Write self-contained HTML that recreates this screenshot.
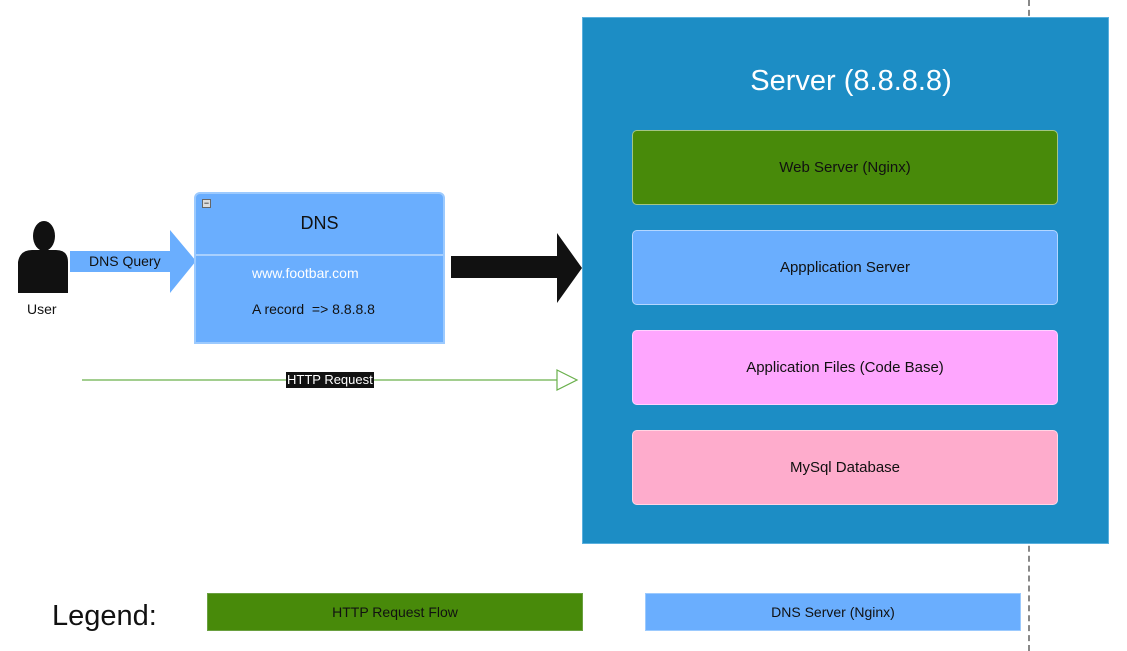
<!DOCTYPE html>
<html><head><style>
body{margin:0;width:1127px;height:651px;background:#fff;position:relative;overflow:hidden;font-family:"Liberation Sans",Arial,sans-serif}
.a{position:absolute;box-sizing:border-box}
.ib{position:absolute;box-sizing:border-box;left:632px;width:426px;height:75px;border-radius:5px;border:1px solid rgba(255,255,255,.5);display:flex;align-items:center;justify-content:center;font-size:15px;color:#111}
</style></head><body>
<div class="a" style="left:1028px;top:0;height:651px;border-left:2px dashed #888"></div>
<div class="a" style="left:582px;top:17px;width:527px;height:527px;background:#1c8dc5;border:1px solid #5ab0de"></div>
<div class="a" style="left:582px;top:65px;width:538px;text-align:center;font-size:29px;color:#fff">Server (8.8.8.8)</div>
<div class="ib" style="top:130px;background:#488a0a">Web Server (Nginx)</div>
<div class="ib" style="top:230px;background:#6aaefe">Appplication Server</div>
<div class="ib" style="top:330px;background:#fea6fe">Application Files (Code Base)</div>
<div class="ib" style="top:430px;background:#feaccc">MySql Database</div>

<svg class="a" style="left:0;top:0" width="1127" height="651">
<polygon points="70,251 170,251 170,230 196,261 170,293 170,272 70,272" fill="#6aaefe"/>
<polygon points="451,256 557,256 557,233 582,268 557,303 557,278 451,278" fill="#111"/>
<ellipse cx="44" cy="236" rx="11" ry="15" fill="#111"/>
<path d="M18,293 L18,262 Q20,250 32,250 L56,250 Q68,250 68,262 L68,293 Z" fill="#111"/>
<line x1="82" y1="380" x2="557" y2="380" stroke="#6ab04c" stroke-width="1.2"/>
<polygon points="557,370 577,380 557,390" fill="#fff" stroke="#6ab04c" stroke-width="1.2"/>
</svg>
<div class="a" style="left:27px;top:301px;font-size:14px;color:#111">User</div>
<div class="a" style="left:89px;top:253px;font-size:14px;color:#111">DNS Query</div>

<div class="a" style="left:194px;top:192px;width:251px;height:152px;background:#6aaefe;border:2px solid #9ccafe;border-radius:6px 6px 0 0"></div>
<div class="a" style="left:196px;top:254px;width:247px;border-top:2px solid #a8d0fe"></div>
<div class="a" style="left:202px;top:199px;width:9px;height:9px;background:#ddd;border:1px solid #666;font-size:9px;line-height:7px;text-align:center">−</div>
<div class="a" style="left:194px;top:213px;width:251px;text-align:center;font-size:18px;color:#111">DNS</div>
<div class="a" style="left:252px;top:265px;font-size:14px;color:#fff">www.footbar.com</div>
<div class="a" style="left:252px;top:301px;font-size:14px;color:#111">A record&nbsp; =&gt; 8.8.8.8</div>
<div class="a" style="left:286px;top:372px;background:#111;color:#fff;font-size:13px;padding:0 1px;line-height:16px">HTTP Request</div>

<div class="a" style="left:52px;top:600px;font-size:29px;color:#111">Legend:</div>
<div class="a" style="left:207px;top:593px;width:376px;height:38px;background:#488a0a;border:1px solid #6aa040;display:flex;align-items:center;justify-content:center;font-size:14px;color:#111">HTTP Request Flow</div>
<div class="a" style="left:645px;top:593px;width:376px;height:38px;background:#6aaefe;border:1px solid #9ccafe;display:flex;align-items:center;justify-content:center;font-size:14px;color:#111">DNS Server (Nginx)</div>
</body></html>
